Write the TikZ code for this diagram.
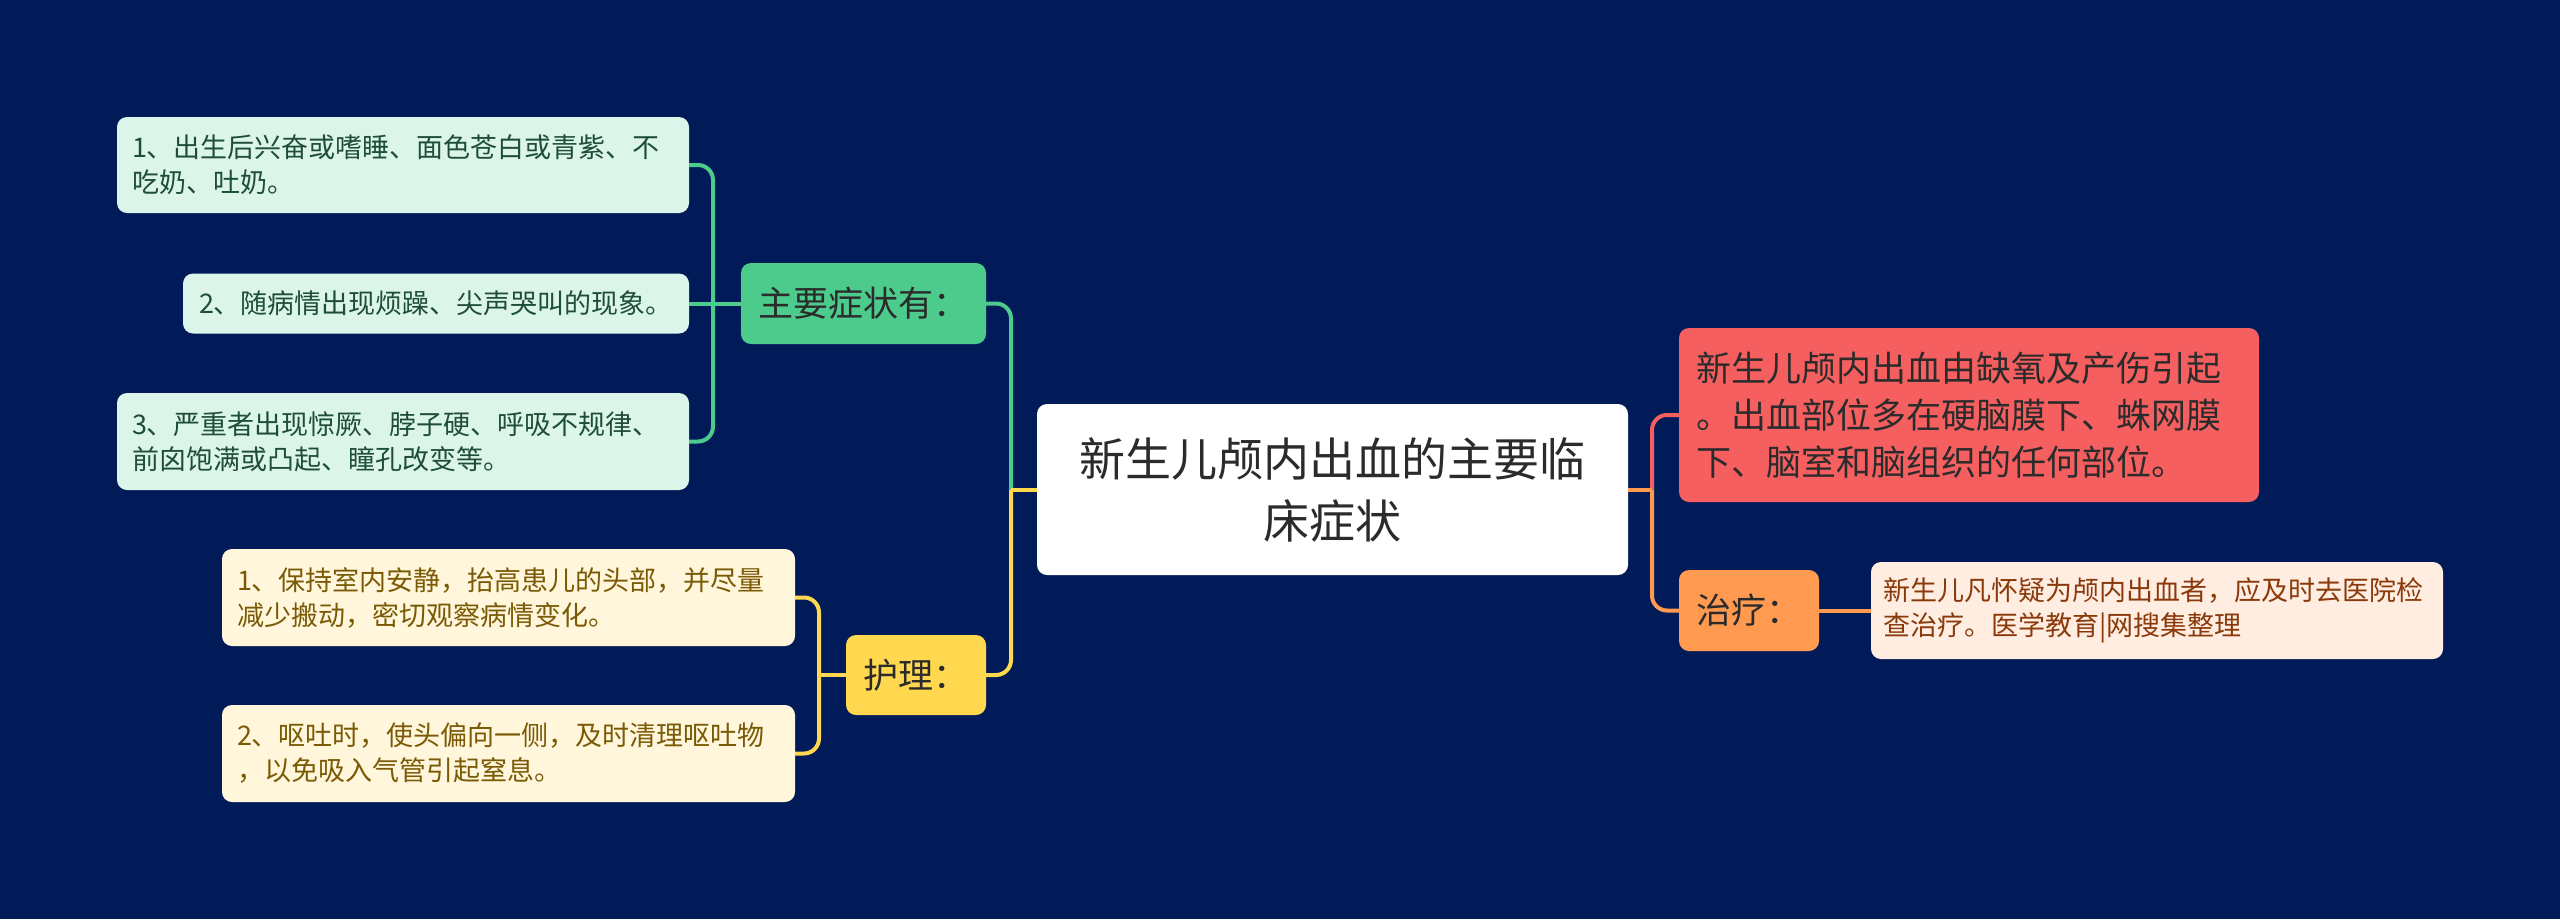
\documentclass[tikz,border=0pt]{standalone}
\usepackage{fontspec}
\setmainfont{Noto Sans CJK SC}
\usetikzlibrary{positioning}
\definecolor{bgnavy}{HTML}{011B58}
\definecolor{symgreen}{HTML}{4CCB8D}
\definecolor{symleaf}{HTML}{DCF5EA}
\definecolor{symtext}{HTML}{1E4E38}
\definecolor{careyellow}{HTML}{FFD84F}
\definecolor{careleaf}{HTML}{FFF6DC}
\definecolor{caretext}{HTML}{7A5A05}
\definecolor{causered}{HTML}{F65F60}
\definecolor{treatorange}{HTML}{FF9A50}
\definecolor{treatleaf}{HTML}{FFEDE1}
\definecolor{treattext}{HTML}{8A3A0A}
\definecolor{darktext}{HTML}{2B2B2B}

\begin{document}
\begin{tikzpicture}[x=1pt,y=-1pt,
  box/.style={rounded corners=10pt, inner ysep=0pt, inner xsep=15pt},
  leaf/.style={box, align=left, font=\fontsize{27}{35}\selectfont},
  mid/.style={box, font=\fontsize{35}{47}\selectfont, text=darktext},
  link/.style={line width=4pt, rounded corners=15pt}]

% fundo
\fill[bgnavy] (0,0) rectangle (2560,919);
\useasboundingbox (0,0) rectangle (2560,919);

% tema central
\node[box, fill=white, text=darktext, align=center, text width=531pt, inner xsep=30pt,
      minimum height=171pt, font=\fontsize{46}{62}\selectfont] (root) at (1332.5,489.5)
      {新生儿颅内出血的主要临\\床症状};

% ramo esquerdo: sintomas
\node[mid, fill=symgreen, minimum width=245pt, minimum height=81pt] (sym) at (863.5,303.5) {主要症状有：};
\node[leaf, fill=symleaf, text=symtext, text width=542pt, minimum height=96pt] (s1) at (403,165)
      {1、出生后兴奋或嗜睡、面色苍白或青紫、不\\吃奶、吐奶。};
\node[leaf, fill=symleaf, text=symtext, minimum width=506pt, minimum height=60pt] (s2) at (436,303.5)
      {2、随病情出现烦躁、尖声哭叫的现象。};
\node[leaf, fill=symleaf, text=symtext, text width=542pt, minimum height=97pt] (s3) at (403,441.5)
      {3、严重者出现惊厥、脖子硬、呼吸不规律、\\前囟饱满或凸起、瞳孔改变等。};

% ramo esquerdo: cuidados
\node[mid, fill=careyellow, minimum width=140pt, minimum height=80pt] (care) at (916,675) {护理：};
\node[leaf, fill=careleaf, text=caretext, text width=543pt, minimum height=97pt] (n1) at (508.5,597.5)
      {1、保持室内安静，抬高患儿的头部，并尽量\\减少搬动，密切观察病情变化。};
\node[leaf, fill=careleaf, text=caretext, text width=543pt, minimum height=97pt] (n2) at (508.5,753.5)
      {2、呕吐时，使头偏向一侧，及时清理呕吐物\\，以免吸入气管引起窒息。};

% ramo direito
\node[mid, fill=causered, align=left, text width=546pt, inner xsep=17pt, minimum height=174pt] (cause) at (1969,415)
      {新生儿颅内出血由缺氧及产伤引起\\。出血部位多在硬脑膜下、蛛网膜\\下、脑室和脑组织的任何部位。};
\node[mid, fill=treatorange, minimum width=140pt, minimum height=81pt] (treat) at (1749,610.5) {治疗：};
\node[leaf, fill=treatleaf, text=treattext, text width=548pt, inner xsep=12pt, minimum height=97pt] (detail) at (2157,610.5)
      {新生儿凡怀疑为颅内出血者，应及时去医院检\\查治疗。医学教育|网搜集整理};

% junções
\coordinate (lj) at (1011,489.5);
\coordinate (rj) at (1652,489.5);

% ligações
\draw[link, symgreen] (lj) |- (sym.east);
\draw[link, careyellow] (lj) |- (care.east);
\draw[link, careyellow] (root.west) -- (lj);

\draw[link, symgreen] (s1.east) -| (713,303.5) |- (s3.east);
\draw[link, symgreen] (sym.west) -- (s2.east);

\draw[link, careyellow] (n1.east) -| (819,675) |- (n2.east);
\draw[link, careyellow] (care.west) -- (819,675);

\draw[link, causered] (rj) |- (cause.west);
\draw[link, treatorange] (rj) |- (treat.west);
\draw[link, treatorange] (root.east) -- (rj);
\draw[link, treatorange] (treat.east) -- (detail.west);

\end{tikzpicture}
\end{document}
